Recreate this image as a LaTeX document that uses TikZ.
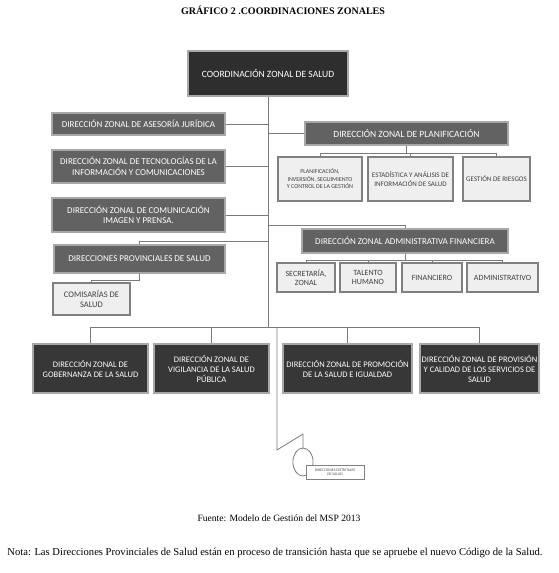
\documentclass[tikz,border=0pt]{standalone}
\usepackage{fontspec}
\setmainfont{Liberation Serif}
\newfontfamily\boxfont{Carlito}
\definecolor{topfill}{HTML}{2E2E2E}
\definecolor{midfill}{HTML}{626262}
\definecolor{botfill}{HTML}{373737}
\definecolor{lightfill}{HTML}{EFEFEF}
\definecolor{edgegray}{HTML}{A8A8A8}
\definecolor{linegray}{HTML}{7A7A7A}
\definecolor{darkedge}{HTML}{808080}
\begin{document}
\begin{tikzpicture}[x=1pt,y=-1pt,
  bx/.style={draw=edgegray, line width=1.2pt, inner sep=1pt, align=center,
    text=white, font=\boxfont\fontsize{9}{10.5}\selectfont},
  topbox/.style={bx, fill=topfill, font=\boxfont\fontsize{9.6}{11}\selectfont},
  midbox/.style={bx, fill=midfill},
  botbox/.style={bx, fill=botfill, font=\boxfont\fontsize{8.5}{10}\selectfont},
  lightbox/.style={draw=darkedge, line width=1.1pt, fill=lightfill, inner sep=1pt, align=center,
    text=black!75, font=\boxfont\fontsize{7}{8.5}\selectfont},
  conn/.style={draw=linegray, line width=0.8pt}]
\useasboundingbox (0,0) rectangle (559,573);
% title
\node[font=\bfseries\fontsize{10}{12}\selectfont] (title) at (283,10) {GRÁFICO 2 .COORDINACIONES ZONALES};
% top
\node[topbox, minimum width=160, minimum height=45] (top) at (268,73.5) {COORDINACIÓN ZONAL DE SALUD};
% left column
\node[midbox, minimum width=173, minimum height=22] (ases) at (138.5,124) {DIRECCIÓN ZONAL DE ASESORÍA JURÍDICA};
\node[midbox, minimum width=173, minimum height=33] (tec) at (138.5,166.5) {DIRECCIÓN ZONAL DE TECNOLOGÍAS DE LA\\INFORMACIÓN Y COMUNICACIONES};
\node[midbox, minimum width=173, minimum height=34] (com) at (138.5,215) {DIRECCIÓN ZONAL DE COMUNICACIÓN\\IMAGEN Y PRENSA.};
\node[midbox, minimum width=171, minimum height=28] (prov) at (139.5,259) {DIRECCIONES PROVINCIALES DE SALUD};
\node[lightbox, minimum width=77, minimum height=32, font=\boxfont\fontsize{8.5}{10}\selectfont] (comi) at (91.5,299) {COMISARÍAS DE\\SALUD};
% right: planificacion
\node[midbox, minimum width=203, minimum height=23, font=\boxfont\fontsize{9.5}{11}\selectfont] (plan) at (406.5,133.5) {DIRECCIÓN ZONAL DE PLANIFICACIÓN};
\node[lightbox, minimum width=84, minimum height=44, font=\boxfont\fontsize{6}{7.5}\selectfont] (pA) at (320,179) {PLANIFICACIÓN,\\INVERSIÓN, SEGUIMIENTO\\Y CONTROL DE LA GESTIÓN};
\node[lightbox, minimum width=85, minimum height=44] (pB) at (410.5,179) {ESTADÍSTICA Y ANÁLISIS DE\\INFORMACIÓN DE SALUD};
\node[lightbox, minimum width=67, minimum height=44] (pC) at (496.5,179) {GESTIÓN DE RIESGOS};
% right: administrativa
\node[midbox, minimum width=206, minimum height=24] (adm) at (405,241) {DIRECCIÓN ZONAL ADMINISTRATIVA FINANCIERA};
\node[lightbox, minimum width=58, minimum height=29, font=\boxfont\fontsize{8}{9.5}\selectfont] (sec) at (306,277.5) {SECRETARÍA,\\ZONAL};
\node[lightbox, minimum width=56, minimum height=29, font=\boxfont\fontsize{8}{9.5}\selectfont] (tal) at (368,277.5) {TALENTO\\HUMANO};
\node[lightbox, minimum width=60, minimum height=29, font=\boxfont\fontsize{8}{9.5}\selectfont] (fin) at (432,277.5) {FINANCIERO};
\node[lightbox, minimum width=71, minimum height=29, font=\boxfont\fontsize{8}{9.5}\selectfont] (admv) at (502.5,277.5) {ADMINISTRATIVO};
% bottom row
\node[botbox, minimum width=115, minimum height=49] (gob) at (90.5,368.5) {DIRECCIÓN ZONAL DE\\GOBERNANZA DE LA SALUD};
\node[botbox, minimum width=115, minimum height=49] (vig) at (211.5,368.5) {DIRECCIÓN ZONAL DE\\VIGILANCIA DE LA SALUD\\PÚBLICA};
\node[botbox, minimum width=129, minimum height=49] (prom) at (347.5,368.5) {DIRECCIÓN ZONAL DE PROMOCIÓN\\DE LA SALUD E IGUALDAD};
\node[botbox, minimum width=119, minimum height=49] (prv) at (479.5,368.5) {DIRECCIÓN ZONAL DE PROVISIÓN\\Y CALIDAD DE LOS SERVICIOS DE\\SALUD};
% small box at bottom
\coordinate (zig1) at (277,450);
\coordinate (zig2) at (303,434);
\coordinate (zig3) at (303,449);
\node[draw=linegray, line width=0.8pt, minimum width=28, inner sep=0pt, circle, xscale=0.72] (ell) at (303,462) {};
\node[draw=darkedge, line width=1pt, fill=white, minimum width=58, minimum height=14, inner sep=0.5pt, align=center,
  font=\boxfont\fontsize{3.8}{4.3}\selectfont, text=black!70] (small) at (335,472) {DIRECCIONES DISTRITALES\\DE SALUD};
% connectors
\coordinate (bus) at (top.south |- 0,327);
\path[conn] (top.south) -- (bus);
\path[conn] (ases.east) -- (ases.east -| top.south);
\path[conn] (tec.east) -- (tec.east -| top.south);
\path[conn] (com.east) -- (com.east -| top.south);
\path[conn] (plan.west) -- (plan.west -| top.south);
\path[conn] (top.south |- 0,225) -| (adm.north);
\path[conn] (prov.north) |- (top.south |- 0,241);
\path[conn] (prov.south) -- (prov.south |- 0,280) -| (comi.north);
\path[conn] (plan.south) -- (plan.south |- 0,153);
\path[conn] (pA.north) -- (pA.north |- 0,153) -| (pC.north);
\path[conn] (pB.north) -- (pB.north |- 0,153);
\path[conn] (adm.south) -- (adm.south |- 0,260);
\path[conn] (sec.north) -- (sec.north |- 0,260) -| (admv.north);
\path[conn] (tal.north) -- (tal.north |- 0,260);
\path[conn] (fin.north) -- (fin.north |- 0,260);
\path[conn] (gob.north) -- (gob.north |- bus) -| (prv.north);
\path[conn] (vig.north) -- (vig.north |- bus);
\path[conn] (prom.north) -- (prom.north |- bus);
\path[conn] (277,327) -- (zig1) -- (zig2) -- (zig3);
% footer
\node[font=\fontsize{9.6}{11}\selectfont] (fuente) at (279,518) {Fuente: Modelo de Gestión del MSP 2013};
\node[font=\fontsize{10.6}{12}\selectfont] (nota) at (275,553) {Nota: Las Direcciones Provinciales de Salud están en proceso de transición hasta que se apruebe el nuevo Código de la Salud.};
\end{tikzpicture}
\end{document}
